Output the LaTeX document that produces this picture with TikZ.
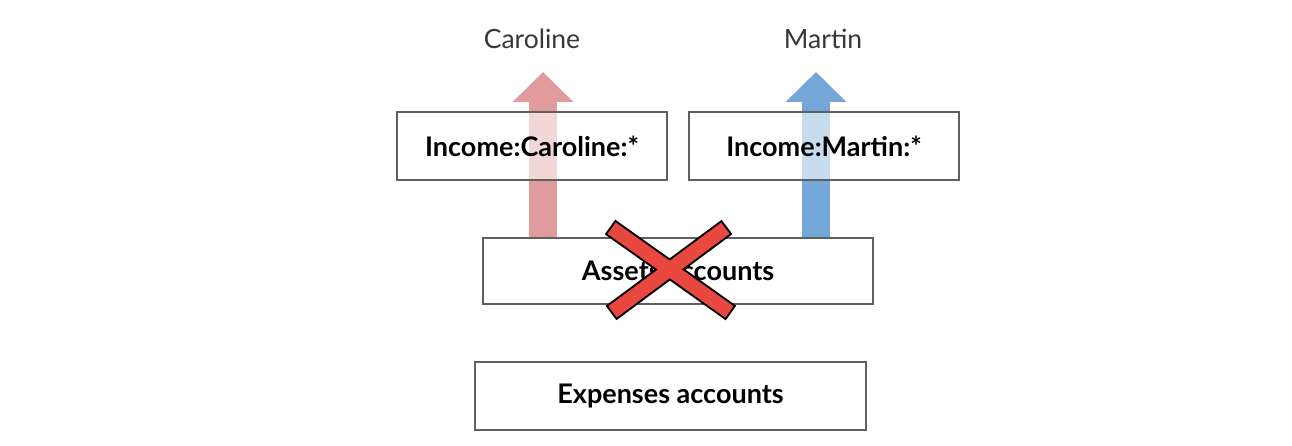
\documentclass[tikz,border=0pt]{standalone}
\usepackage{fontspec}
\setmainfont{Lato}
\usetikzlibrary{arrows.meta}
\definecolor{boxline}{RGB}{95,95,95}
\definecolor{redarrow}{RGB}{224,156,156}
\definecolor{bluearrow}{RGB}{116,166,216}
\definecolor{xred}{RGB}{232,72,64}
\definecolor{labelgray}{RGB}{55,55,55}
\tikzset{
  acct/.style={draw=boxline, line width=1.3pt, fill=white, minimum height=68pt, font=\fontsize{27}{30}\selectfont\bfseries, text=black, inner sep=0pt},
  who/.style={font=\fontsize{26.5}{30}\selectfont, text=labelgray, inner sep=0pt},
  flow/.style={line width=28pt, -{Triangle[width=59pt,length=30pt]}},
}
\begin{document}
\begin{tikzpicture}[x=1pt,y=-1pt]
\useasboundingbox (0,0) rectangle (1292,446);
% labels
\node[who] (caroline) at (532,39) {Caroline};
\node[who] (martin) at (823,39) {Martin};
% assets box and arrow anchors
\node[acct, minimum width=390pt, minimum height=66pt] (assets) at (678,271) {Assets accounts};
\coordinate (ctip) at (543,72);
\coordinate (mtip) at (816,72);
% arrows (behind boxes)
\draw[flow, draw=redarrow, fill=redarrow] (assets.north -| ctip) -- (ctip);
\draw[flow, draw=bluearrow, fill=bluearrow] (assets.north -| mtip) -- (mtip);
% redraw assets box over arrow ends
\node[acct, minimum width=390pt, minimum height=66pt] at (assets) {Assets accounts};
% income boxes (semi-transparent fill)
\node[acct, minimum width=270pt, fill opacity=0.6, text opacity=1] (inccar) at (532,146) {Income:Caroline:*};
\node[acct, minimum width=270pt, fill opacity=0.6, text opacity=1] (incmar) at (824,146) {Income:Martin:*};
% expenses
\node[acct, minimum width=391pt] (expenses) at (670.5,396) {Expenses accounts};
% cross
\coordinate (xa) at (610,227);
\coordinate (xb) at (731,313);
\coordinate (xc) at (727,227);
\coordinate (xd) at (611,313);
\draw[line width=18pt, black] (xa) -- (xb);
\draw[line width=18pt, black] (xc) -- (xd);
\draw[line width=14pt, xred, shorten <=2pt, shorten >=2pt] (xa) -- (xb);
\draw[line width=14pt, xred, shorten <=2pt, shorten >=2pt] (xc) -- (xd);
\end{tikzpicture}
\end{document}
